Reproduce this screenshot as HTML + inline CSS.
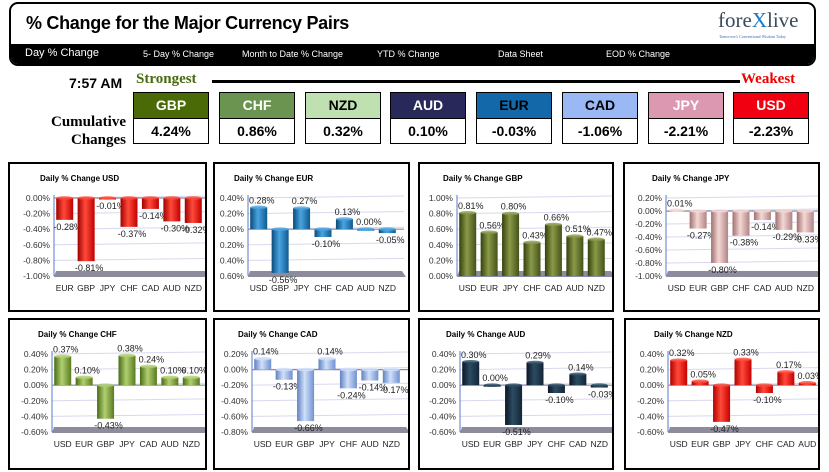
<!DOCTYPE html>
<html><head><meta charset="utf-8">
<style>
body{margin:0;width:829px;height:472px;background:#fff;position:relative;overflow:hidden;font-family:"Liberation Sans",sans-serif}
.abs{position:absolute}
#hdr{left:9px;top:2px;width:803px;height:60px;border:2px solid #000;border-radius:9px;overflow:hidden;background:#fff}
#nav{position:absolute;left:0;top:40px;width:100%;height:20px;background:#000;color:#fff;font-size:9px}
#nav span{position:absolute;top:5px}
.box{position:absolute;width:74px;border:1px solid #000}
.box .h{height:25px;line-height:25px;text-align:center;font-weight:bold;font-size:14px;color:#fff;border-bottom:1px solid #000;font-family:"Liberation Sans Narrow","Liberation Sans",sans-serif}
.box .v{height:24px;line-height:24px;text-align:center;font-weight:bold;font-size:14px;background:#fff;font-family:"Liberation Sans Narrow","Liberation Sans",sans-serif}
.panel{position:absolute;border:2px solid #000;background:#fff;box-sizing:border-box}
</style></head><body>
<div id="hdr" class="abs">
  <div class="abs" style="left:15px;top:9px;font-size:18px;font-weight:bold;font-family:'Liberation Sans Narrow','Liberation Sans',sans-serif;letter-spacing:-0.3px">% Change for the Major Currency Pairs</div>
  <div class="abs" style="left:707px;top:4px;font-family:'Liberation Serif',serif;font-size:21px;color:#3a4a5a">fore<span style="color:#1a7ac8">X</span>live</div>
  <div class="abs" style="left:708px;top:30px;font-size:4px;color:#3a6ab8;font-family:'Liberation Serif',serif">Tomorrow's Conventional Wisdom Today</div>
  <div id="nav">
    <span style="left:14px;font-size:11px;top:3px">Day % Change</span>
    <span style="left:132px">5- Day % Change</span>
    <span style="left:231px">Month to Date % Change</span>
    <span style="left:366px">YTD % Change</span>
    <span style="left:487px">Data Sheet</span>
    <span style="left:595px">EOD % Change</span>
  </div>
</div>
<div class="abs" style="left:69px;top:75px;font-size:14px;font-weight:bold;font-family:'Liberation Sans Narrow','Liberation Sans',sans-serif">7:57 AM</div>
<div class="abs" style="left:136px;top:71px;font-size:15px;font-weight:bold;color:#4a6a10;font-family:'Liberation Serif',serif">Strongest</div>
<div class="abs" style="left:212px;top:80px;width:528px;height:3px;background:#000"></div>
<div class="abs" style="left:741px;top:71px;font-size:15px;font-weight:bold;color:#e00;font-family:'Liberation Serif',serif">Weakest</div>
<div class="abs" style="left:40px;top:113px;width:86px;text-align:right;font-size:15px;font-weight:bold;line-height:18px;font-family:'Liberation Serif',serif">Cumulative<br>Changes</div>
<div id="boxes"></div>
<div id="panels"></div>
<script>
const rankCurrencies=["GBP","CHF","NZD","AUD","EUR","CAD","JPY","USD"];
const rankValues=["4.24%","0.86%","0.32%","0.10%","-0.03%","-1.06%","-2.21%","-2.23%"];
const rankColors=["#4a6a08","#6a9450","#bfe0b0","#28285a","#1268a8","#9ab8f4","#dc98b0","#f00010"];
const rankText=["#fff","#fff","#000","#fff","#000","#000","#fff","#fff"];

const usdCats=["EUR","GBP","JPY","CHF","CAD","AUD","NZD"];
const usdVals=[-0.28,-0.81,-0.01,-0.37,-0.14,-0.30,-0.32];
const usdTicks=[0,-0.2,-0.4,-0.6,-0.8,-1.0];
const usdTickLabels=["0.00%","-0.20%","-0.40%","-0.60%","-0.80%","-1.00%"];

const eurCats=["USD","GBP","JPY","CHF","CAD","AUD","NZD"];
const eurVals=[0.28,-0.56,0.27,-0.10,0.13,0.00,-0.05];
const eurTicks=[0.4,0.2,0,-0.2,-0.4,-0.6];
const eurTickLabels=["0.40%","0.20%","0.00%","0.20%","0.40%","0.60%"];

const gbpCats=["USD","EUR","JPY","CHF","CAD","AUD","NZD"];
const gbpVals=[0.81,0.56,0.80,0.43,0.66,0.51,0.47];
const gbpTicks=[1.0,0.8,0.6,0.4,0.2,0];
const gbpTickLabels=["1.00%","0.80%","0.60%","0.40%","0.20%","0.00%"];

const jpyCats=["USD","EUR","GBP","CHF","CAD","AUD","NZD"];
const jpyVals=[0.01,-0.27,-0.80,-0.38,-0.14,-0.29,-0.33];
const jpyTicks=[0.2,0,-0.2,-0.4,-0.6,-0.8,-1.0];
const jpyTickLabels=["0.20%","0.00%","-0.20%","-0.40%","-0.60%","-0.80%","-1.00%"];

const chfCats=["USD","EUR","GBP","JPY","CAD","AUD","NZD"];
const chfVals=[0.37,0.10,-0.43,0.38,0.24,0.10,0.10];
const chfTicks=[0.4,0.2,0,-0.2,-0.4,-0.6];
const chfTickLabels=["0.40%","0.20%","0.00%","-0.20%","-0.40%","-0.60%"];

const cadCats=["USD","EUR","GBP","JPY","CHF","AUD","NZD"];
const cadVals=[0.14,-0.13,-0.66,0.14,-0.24,-0.14,-0.17];
const cadTicks=[0.2,0,-0.2,-0.4,-0.6,-0.8];
const cadTickLabels=["0.20%","0.00%","-0.20%","-0.40%","-0.60%","-0.80%"];

const audCats=["USD","EUR","GBP","JPY","CHF","CAD","NZD"];
const audVals=[0.30,0.00,-0.51,0.29,-0.10,0.14,-0.03];
const audTicks=[0.4,0.2,0,-0.2,-0.4,-0.6];
const audTickLabels=["0.40%","0.20%","0.00%","-0.20%","-0.40%","-0.60%"];

const nzdCats=["USD","EUR","GBP","JPY","CHF","CAD","AUD"];
const nzdVals=[0.32,0.05,-0.47,0.33,-0.10,0.17,0.03];
const nzdTicks=[0.4,0.2,0,-0.2,-0.4,-0.6];
const nzdTickLabels=["0.40%","0.20%","0.00%","-0.20%","-0.40%","-0.60%"];

const boxX=[133,219,305,390,476,562,648,733];
const bx=document.getElementById('boxes');
rankCurrencies.forEach((c,i)=>{
  const d=document.createElement('div');
  d.className='box';
  d.style.left=boxX[i]+'px';d.style.top='92px';
  
  
  d.innerHTML='<div class="h" style="background:'+rankColors[i]+';color:'+rankText[i]+'">'+c+'</div><div class="v">'+rankValues[i]+'</div>';
  bx.appendChild(d);
});

const NS='http://www.w3.org/2000/svg';
function el(tag,attrs,parent){const e=document.createElementNS(NS,tag);for(const k in attrs)e.setAttribute(k,attrs[k]);if(parent)parent.appendChild(e);return e;}
const charts=[
 {id:'usd',title:'Daily % Change USD',cats:usdCats,vals:usdVals,ticks:usdTicks,labels:usdTickLabels,c:['#a00000','#ff4a3a','#c00000'],x:8,y:162,w:199,h:150,pl:44},
 {id:'eur',title:'Daily % Change EUR',cats:eurCats,vals:eurVals,ticks:eurTicks,labels:eurTickLabels,c:['#0a4a7a','#4aa4e0','#0e5a90'],x:213,y:162,w:197,h:150,pl:33},
 {id:'gbp',title:'Daily % Change GBP',cats:gbpCats,vals:gbpVals,ticks:gbpTicks,labels:gbpTickLabels,c:['#34400c','#8a9a48','#44521a'],x:418,y:162,w:196,h:150,pl:37},
 {id:'jpy',title:'Daily % Change JPY',cats:jpyCats,vals:jpyVals,ticks:jpyTicks,labels:jpyTickLabels,c:['#a07070','#f4d8d4','#b08484'],x:623,y:162,w:197,h:150,pl:41},
 {id:'chf',title:'Daily % Change CHF',cats:chfCats,vals:chfVals,ticks:chfTicks,labels:chfTickLabels,c:['#4a6a18','#b0d070','#5a7a20'],x:8,y:318,w:199,h:152,pl:42},
 {id:'cad',title:'Daily % Change CAD',cats:cadCats,vals:cadVals,ticks:cadTicks,labels:cadTickLabels,c:['#6080c0','#d0e0fa','#7090d0'],x:213,y:318,w:197,h:152,pl:37},
 {id:'aud',title:'Daily % Change AUD',cats:audCats,vals:audVals,ticks:audTicks,labels:audTickLabels,c:['#0c1628','#2c4c60','#142438'],x:418,y:318,w:196,h:152,pl:40},
 {id:'nzd',title:'Daily % Change NZD',cats:nzdCats,vals:nzdVals,ticks:nzdTicks,labels:nzdTickLabels,c:['#b00000','#ff4a3a','#c80000'],x:624,y:318,w:196,h:152,pl:42}
];
const host=document.getElementById('panels');
charts.forEach(ch=>{
  const p=document.createElement('div');
  p.className='panel';
  p.style.left=ch.x+'px';p.style.top=ch.y+'px';p.style.width=ch.w+'px';p.style.height=ch.h+'px';
  
  
  host.appendChild(p);
  const s=el('svg',{width:ch.w-4,height:ch.h-4,style:'position:absolute;left:0;top:0'},p);
  const defs=el('defs',{},s);
  const g=el('linearGradient',{id:'g'+ch.id,x1:0,x2:1,y1:0,y2:0},defs);
  el('stop',{offset:'0',  'stop-color':ch.c[0]},g);
  el('stop',{offset:'0.45','stop-color':ch.c[1]},g);
  el('stop',{offset:'1','stop-color':ch.c[2]},g);
  const t=el('text',{x:ch.pl-14,y:17,'font-size':8,'font-weight':'bold',fill:'#000','font-family':'Liberation Sans, sans-serif'},s);
  t.textContent=ch.title;
  
  
  const L=ch.pl, R=ch.pl+150, T=34, B=112;
  const ymax=Math.max(...ch.ticks), ymin=Math.min(...ch.ticks);
  const yS=v=>T+(ymax-v)/(ymax-ymin)*(B-T);
  const step=(R-L)/ch.cats.length;
  const xS=i=>L+(i+0.5)*step;
  ch.ticks.forEach((tv,i)=>{
    const y=yS(tv);
    const gl=el('line',{x1:L,x2:R+6,y1:y,y2:y-2,stroke:'#d8d8f0','stroke-width':1},s);
    
    
    const tl=el('text',{x:L-4,y:y+3,'font-size':8.5,'text-anchor':'end',fill:'#333'},s);
    tl.textContent=ch.labels[i];
    
    
  });
  const fl=el('polygon',{points:L+','+(B+1)+' '+(R+8)+','+(B+1)+' '+(R+4)+','+(B-5)+' '+(L+2)+','+(B-5),fill:'#8c8c9c'},s);
  
  
  el('line',{x1:L,x2:L,y1:T-3,y2:B,stroke:'#5a78c8','stroke-width':1},s);
  const z=yS(0);
  const zl=el('line',{x1:L,x2:R+6,y1:z,y2:z,stroke:'#8a8aa8','stroke-width':1.2},s);
  
  
  ch.vals.forEach((v,i)=>{
    const cx=xS(i), bw=17, y0=yS(0), y1=yS(v);
    const top=Math.min(y0,y1), h=Math.max(Math.abs(y1-y0),1.5);
    const r=el('rect',{x:cx-bw/2,y:top,width:bw,height:h,fill:'url(#g'+ch.id+')'},s);
    
    
    el('ellipse',{cx:cx,cy:top,rx:bw/2,ry:1.8,fill:ch.c[1],opacity:0.8},s);
    const ly=v>=0?y1-4:y1+10;
    const vl=el('text',{x:cx+3,y:ly,'font-size':9,'text-anchor':'middle',fill:'#222'},s);
    vl.textContent=v.toFixed(2)+'%';
    
    
    const cl=el('text',{x:cx,y:B+15,'font-size':8.5,'text-anchor':'middle',fill:'#222'},s);
    cl.textContent=ch.cats[i];
    
    
  });
});
</script>
</body></html>
